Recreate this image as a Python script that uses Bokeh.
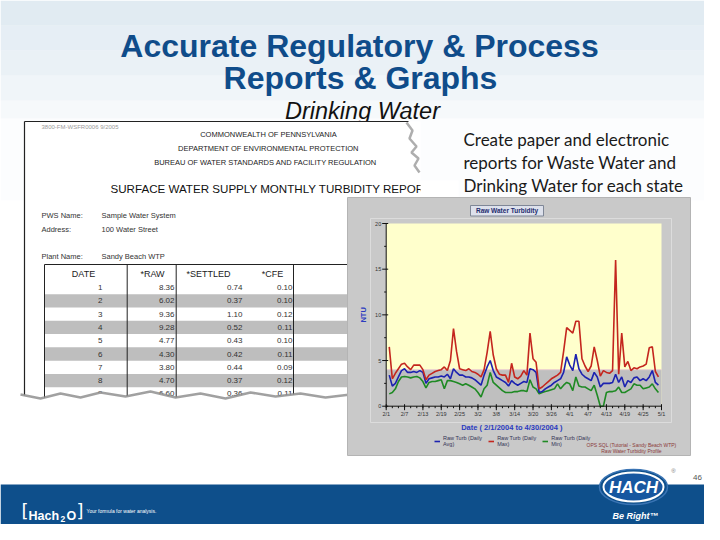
import math
import pandas as pd
from bokeh.plotting import figure
from bokeh.models import Range1d, Legend, LegendItem
from bokeh.core.properties import value
from bokeh.embed import file_html
from bokeh.resources import INLINE

# ---------------- data ----------------
dates = pd.date_range("2004-02-02", "2004-04-30", freq="D")
raw_max = [6.5, 3.0, 3.6, 4.1, 4.6, 4.7, 4.3, 4.0, 4.5, 4.5,
           4.5, 4.0, 2.9, 3.4, 3.6, 3.8, 3.9, 4.0, 4.3, 3.9,
           5.0, 8.5, 6.0, 4.1, 4.0, 3.9, 4.1, 3.8, 3.7, 3.5,
           3.2, 4.0, 5.9, 8.2, 5.6, 4.1, 3.5, 3.4, 3.4, 2.6,
           4.7, 3.2, 3.0, 3.3, 3.9, 3.4, 8.0, 5.2, 4.8, 1.9,
           2.1, 2.4, 2.7, 3.0, 3.2, 3.4, 3.7, 6.0, 8.6, 8.3,
           8.0, 9.3, 9.3, 5.2, 4.4, 3.8, 4.4, 6.5, 5.0, 3.3,
           3.9, 3.7, 3.6, 3.9, 16.0, 3.5, 8.0, 4.3, 4.9, 3.9,
           4.2, 4.1, 4.3, 4.4, 4.6, 6.4, 6.5, 3.8, 3.2]
raw_avg = [3.4, 2.2, 2.5, 3.2, 3.9, 4.1, 3.7, 3.7, 3.8, 3.7,
           3.9, 3.7, 2.5, 3.0, 3.1, 3.2, 3.2, 3.3, 3.2, 3.5,
           3.0, 4.1, 3.7, 3.4, 3.4, 3.2, 3.2, 3.1, 2.9, 2.6,
           2.3, 3.4, 4.3, 5.0, 3.9, 3.2, 3.0, 2.8, 2.6, 2.2,
           2.8, 2.5, 2.3, 2.5, 2.7, 2.6, 4.1, 4.0, 3.7, 1.5,
           1.6, 1.9, 2.1, 2.3, 2.6, 2.8, 3.0, 3.7, 5.4, 4.5,
           3.9, 5.7, 4.1, 3.5, 3.2, 3.0, 2.8, 3.7, 3.2, 2.1,
           2.5, 2.5, 2.5, 2.6, 3.5, 2.6, 3.2, 2.1, 2.8, 2.6,
           3.1, 3.2, 2.8, 3.0, 2.8, 3.2, 3.9, 2.6, 2.3]
raw_min = [1.35, 1.5, 1.9, 2.7, 3.2, 3.25, 3.2, 3.1, 3.2, 3.25,
           3.1, 2.7, 2.0, 2.6, 2.7, 2.7, 2.8, 2.9, 1.9, 2.8,
           2.8, 2.7, 2.6, 2.45, 2.3, 2.45, 2.3, 2.1, 1.9, 1.5,
           1.0, 1.9, 2.3, 3.7, 2.6, 2.3, 2.0, 1.7, 1.5, 1.5,
           1.5, 1.6, 1.6, 1.7, 1.7, 1.6, 2.9, 2.1, 1.9, 1.35,
           1.5, 1.6, 1.7, 1.8, 1.9, 2.45, 1.9, 2.3, 2.6, 2.45,
           1.7, 3.2, 2.2, 2.1, 2.1, 1.9, 1.7, 2.3, 1.2, 0.0,
           0.0, 1.5, 1.6, 1.6, 1.7, 2.1, 1.5, 1.5, 1.7, 1.9,
           2.45, 2.3, 2.3, 1.9, 2.0, 2.1, 2.45, 1.9, 1.5]
series_names = ["Raw Turb (Daily\nAvg)", "Raw Turb (Daily\nMax)", "Raw Turb (Daily\nMin)"]
tick_dates = pd.date_range("2004-02-01", "2004-05-01", freq="6D")
tick_labels = ["2/1", "2/7", "2/13", "2/19", "2/25", "3/2", "3/8", "3/14",
               "3/20", "3/26", "4/1", "4/7", "4/13", "4/19", "4/25", "5/1"]
y_ticks = [0, 5, 10, 15, 20]
y_minor = [2.5, 7.5, 12.5, 17.5]
limit_ntu = 4.0

report_days = ["1", "2", "3", "4", "5", "6", "7", "8", "9"]
report_raw = ["8.36", "6.02", "9.36", "9.28", "4.77", "4.30", "3.80", "4.70", "6.60"]
report_settled = ["0.74", "0.37", "1.10", "0.52", "0.43", "0.42", "0.44", "0.37", "0.36"]
report_cfe = ["0.10", "0.10", "0.12", "0.11", "0.10", "0.11", "0.09", "0.12", "0.11"]

# ---------------- styles / layout ----------------
C_RED, C_BLUE, C_GREEN = "#C4261E", "#1C22B0", "#1F8A24"
C_TITLE = "#0F4C8A"
C_BAR = "#0E4F8B"
C_AXLAB = "#2B3BC0"
FONT = "Liberation Sans"

# slide canvas in slide-pixel units
SX0, SX1, SY0, SY1 = 0, 704, 0, 524
# where the turbidity plot area sits on the slide (pixels)
PL, PR, PT, PB = 385.7, 661.0, 223.0, 405.7

day0 = tick_dates[0]
xd = [(d - day0).days for d in dates]
tick_x = [(d - day0).days for d in tick_dates]
x_lo, x_hi = tick_x[0], tick_x[-1]
y_lo, y_hi = y_ticks[0], y_ticks[-1]
minor_x = list(range(x_lo, x_hi + 1, 2))

ppd = (PR - PL) / (x_hi - x_lo)      # pixels per day
ppn = (PB - PT) / (y_hi - y_lo)      # pixels per NTU
days_range = Range1d(x_lo - (PL - SX0) / ppd, x_hi + (SX1 - PR) / ppd)
ntu_range = Range1d(y_lo - (SY1 - PB) / ppn, y_hi + (PT - SY0) / ppn)

slide = figure(width=SX1 - SX0, height=SY1 - SY0,
               x_range=Range1d(SX0, SX1), y_range=Range1d(SY1, SY0),
               output_backend="svg", toolbar_location=None, min_border=0,
               x_axis_location=None, y_axis_location=None, title=None,
               background_fill_color="white", border_fill_color="white",
               outline_line_color=None)
slide.grid.visible = False
slide.extra_x_ranges = {"days": days_range}
slide.extra_y_ranges = {"ntu": ntu_range}
CH = dict(x_range_name="days", y_range_name="ntu")


def label(x, y, s, size, color="#000000", style="normal", font=FONT,
          align="left", baseline="middle"):
    slide.text(x=[x], y=[y], text=[s], text_font=value(font),
               text_font_size=f"{size}px", text_color=color,
               text_font_style=style, text_align=align, text_baseline=baseline)


# watery light-blue header texture (soft bands)
for top, bot, a in [(0, 25, 0.55), (25, 50, 0.45), (50, 75, 0.38),
                    (75, 100, 0.28), (100, 118, 0.16), (118, 200, 0.06)]:
    slide.quad(left=0, right=720, top=top, bottom=bot, fill_color="#C8DAE8",
               fill_alpha=a, line_color=None)

# title
label(359, 45, "Accurate Regulatory & Process", 32, C_TITLE, "bold", align="center",
      baseline="alphabetic")
label(360, 77, "Reports & Graphs", 32, C_TITLE, "bold", align="center",
      baseline="alphabetic")
label(362, 110, "Drinking Water", 23.5, "#111111", "italic", align="center",
      baseline="alphabetic")

# ---- report image (left) ----
slide.quad(left=24, right=420, top=121, bottom=398, fill_color="white", line_color=None)
slide.segment(x0=[24, 24], y0=[121, 121], x1=[24, 408], y1=[398, 121],
              line_color="#222222", line_width=1.2)
slide.line(x=[406, 412, 409, 416, 411, 418, 414, 419],
           y=[122, 130, 138, 146, 152, 158, 165, 172], line_color="#8C8C8C",
           line_width=2.5, line_alpha=0.7)

label(41, 126, "3800-FM-WSFR0006  9/2005", 6, "#9A9A9A")
label(268, 134, "COMMONWEALTH OF PENNSYLVANIA", 7.5, "#222222", align="center")
label(268, 148, "DEPARTMENT OF ENVIRONMENTAL PROTECTION", 7.5, "#222222", align="center")
label(265, 162, "BUREAU OF WATER STANDARDS AND FACILITY REGULATION", 7.5, "#222222",
      align="center")
label(110, 188, "SURFACE WATER SUPPLY MONTHLY TURBIDITY REPORT", 11.6, "#111111")
slide.quad(left=420, right=458, top=180, bottom=197, fill_color="white", line_color=None)

for yy, k, v in [(215, "PWS Name:", "Sample Water System"),
                 (229, "Address:", "100 Water Street"),
                 (256, "Plant Name:", "Sandy Beach WTP")]:
    label(41, yy, k, 7.5, "#333333")
    label(101, yy, v, 7.5, "#333333")

row_h = 13.3
row0 = 287.0
for i in range(len(report_days)):
    yc = row0 + i * row_h
    if i % 2 == 1:
        slide.quad(left=44, right=348, top=yc - row_h / 2, bottom=yc + row_h / 2,
                   fill_color="#BEBEBE", line_color=None)
for i, (d, r, s, c) in enumerate(zip(report_days, report_raw, report_settled, report_cfe)):
    yc = row0 + i * row_h
    label(102, yc, d, 8, "#333333", align="right")
    label(174, yc, r, 8, "#333333", align="right")
    label(242, yc, s, 8, "#333333", align="right")
    label(292, yc, c, 8, "#333333", align="right")

for hx, h in [(83, "DATE"), (152, "*RAW"), (208, "*SETTLED"), (272, "*CFE")]:
    label(hx, 273, h, 9, "#222222", align="center")
slide.segment(x0=[44], y0=[264], x1=[348], y1=[264], line_color="#222222", line_width=1)
slide.segment(x0=[44, 126.7, 175.7, 293], y0=[264] * 4, x1=[44, 126.7, 175.7, 293],
              y1=[398] * 4, line_color="#222222", line_width=1)

# torn bottom edge
tx = [20, 40, 60, 80, 100, 125, 150, 175, 200, 225, 250, 275, 300, 325, 350]
ty = [394, 398, 393, 397, 392, 396, 391, 397, 393, 398, 392, 396, 393, 397, 394]
slide.patch(x=tx + [350, 20], y=ty + [420, 420], fill_color="white", line_color=None)
slide.line(x=tx, y=ty, line_color="#8A8A8A", line_width=2.5, line_alpha=0.8)

# ---- right description text ----
for yy, s in [(139, "Create paper and electronic"),
              (162, "reports for Waste Water and"),
              (185, "Drinking Water for each state")]:
    label(463, yy, s, 17, "#1A1A1A", font="Lato", baseline="alphabetic")

# ---- chart panel box ----
slide.quad(left=347, right=690, top=197, bottom=455, fill_color="#C9C9C9",
           line_color="#B4B4B4")
slide.quad(left=370, right=671, top=218, bottom=422, fill_color=None,
           line_color="#DCDCDC", line_width=1)
slide.quad(left=470, right=543, top=205, bottom=215.5, fill_color="#DDE1EC",
           line_color="#7F8797")
label(506.5, 210.3, "Raw Water Turbidity", 6.5, "#1E2C6E", "bold", align="center")
label(631, 444, "OPS SQL (Tutorial - Sandy Beach WTP)", 5, "#8B3A3A", align="center")
label(631, 450, "Raw Water Turbidity Profile", 5, "#8B3A3A", align="center")

# ---- turbidity chart (drawn through its own day / NTU scales) ----
slide.quad(left=x_lo, right=x_hi, bottom=y_lo, top=y_hi, fill_color="#FFFFCC",
           line_color=None, **CH)
slide.quad(left=x_lo, right=x_hi, bottom=y_lo, top=limit_ntu, fill_color="#BFBFBF",
           line_color=None, **CH)
slide.segment(x0=[x_lo], y0=[limit_ntu], x1=[x_hi], y1=[limit_ntu],
              line_color="#EBCFCF", line_width=1, **CH)

r_min = slide.line(xd, raw_min, line_color=C_GREEN, line_width=1.6, **CH)
r_avg = slide.line(xd, raw_avg, line_color=C_BLUE, line_width=1.6, **CH)
r_max = slide.line(xd, raw_max, line_color=C_RED, line_width=1.6, **CH)

# axes
slide.segment(x0=[x_lo, x_lo], y0=[y_lo, y_lo], x1=[x_lo, x_hi], y1=[y_hi, y_lo],
              line_color="#111111", line_width=1, **CH)
slide.segment(x0=minor_x, y0=[y_lo - 2 / ppn] * len(minor_x), x1=minor_x,
              y1=[y_lo] * len(minor_x), line_color="#111111", line_width=1, **CH)
slide.segment(x0=tick_x, y0=[y_lo - 4 / ppn] * len(tick_x), x1=tick_x,
              y1=[y_lo + 2 / ppn] * len(tick_x), line_color="#111111", line_width=1, **CH)
slide.segment(x0=[x_lo - 4 / ppd] * len(y_ticks), y0=y_ticks,
              x1=[x_lo + 2 / ppd] * len(y_ticks), y1=y_ticks,
              line_color="#111111", line_width=1, **CH)
slide.segment(x0=[x_lo - 2 / ppd] * len(y_minor), y0=y_minor,
              x1=[x_lo] * len(y_minor), y1=y_minor,
              line_color="#111111", line_width=1, **CH)
slide.text(x=tick_x, y=[y_lo] * len(tick_x), text=tick_labels, y_offset=8,
           text_font=value(FONT), text_font_size="5.5px", text_color="#333333",
           text_align="center", text_baseline="middle", **CH)
slide.text(x=[x_lo] * len(y_ticks), y=y_ticks, text=[str(t) for t in y_ticks],
           x_offset=-5, text_font=value(FONT), text_font_size="5.5px",
           text_color="#333333", text_align="right", text_baseline="middle", **CH)
slide.text(x=[x_lo], y=[(y_lo + y_hi) / 2], text=["NTU"], x_offset=-23,
           angle=math.pi / 2, text_font=value(FONT), text_font_size="7.5px",
           text_font_style="bold", text_color=C_AXLAB, text_align="center",
           text_baseline="middle", **CH)
d_first, d_last = tick_dates[0], dates[-1]
date_title = (f"Date ( {d_first.month}/{d_first.day}/{d_first.year} to "
              f"{d_last.month}/{d_last.day}/{d_last.year} )")
slide.text(x=[(x_lo + x_hi) / 2], y=[y_lo], text=[date_title], x_offset=-12,
           y_offset=21.5, text_font=value(FONT), text_font_size="7.5px",
           text_font_style="bold", text_color=C_AXLAB, text_align="center",
           text_baseline="middle", **CH)

legend = Legend(items=[LegendItem(label=series_names[0], renderers=[r_avg]),
                       LegendItem(label=series_names[1], renderers=[r_max]),
                       LegendItem(label=series_names[2], renderers=[r_min])],
                orientation="horizontal", location=(434 - SX0, SY1 - 447),
                background_fill_alpha=0, border_line_color=None,
                label_text_font=FONT, label_text_font_size="5.5px",
                label_text_color="#333355", glyph_width=6, glyph_height=6,
                label_standoff=3, spacing=6, padding=0, margin=0,
                label_height=12)
slide.add_layout(legend)

# ---- footer ----
slide.quad(left=0, right=720, top=484, bottom=540, fill_color=C_BAR, line_color=None)
label(21, 510, "[", 18, "white", font="DejaVu Sans")
label(28, 515, "Hach", 12.5, "white", "bold", baseline="alphabetic")
label(60, 518, "2", 8.5, "white", "bold", baseline="alphabetic")
label(66, 515, "O", 12.5, "white", "bold", baseline="alphabetic")
label(76, 510, "]", 18, "white", font="DejaVu Sans")
label(86, 510, "Your formula for water analysis.", 5, "white")

slide.ellipse(x=[633], y=[486.5], width=68, height=35, fill_color=C_BAR,
              line_color="#3A74B4", line_width=1.5)
slide.ellipse(x=[633], y=[486.5], width=60, height=29, fill_color="#1757A0",
              line_color="white", line_width=2)
label(633, 487, "HACH", 17, "white", "bold italic", align="center")
label(673, 470, "®", 6, "#777777", align="center")
label(635, 515, "Be Right™", 9, "white", "bold italic", align="center")
label(697, 477, "46", 8, "#555555", align="center")

open("out.html", "w").write(file_html(slide, INLINE))
